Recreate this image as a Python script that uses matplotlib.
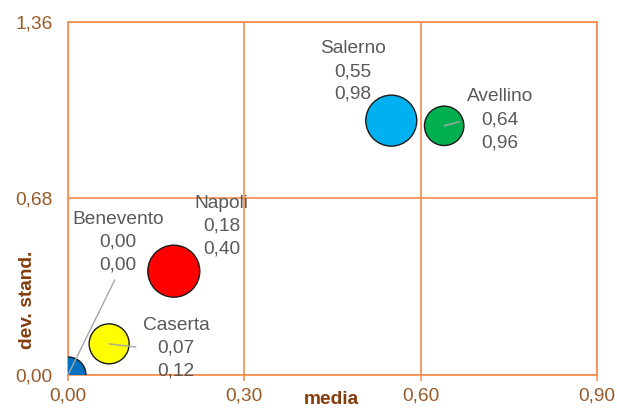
import matplotlib
matplotlib.use("Agg")
import matplotlib.pyplot as plt

# --- data ---
province = ["Benevento", "Caserta", "Napoli", "Salerno", "Avellino"]
media = [0.00, 0.07, 0.18, 0.55, 0.64]
dev_stand = [0.00, 0.12, 0.40, 0.98, 0.96]
dimensione = [324, 400, 676, 650, 388]
colori = ["#0070C0", "#FFFF00", "#FF0000", "#00B0F0", "#00B050"]
x_ticks = [0.00, 0.30, 0.60, 0.90]
y_ticks = [0.00, 0.68, 1.36]

# label offsets (pixels) and leader-line settings
offsets = [(50, 133), (67, -4), (48, 45), (-38, 49), (56, 6)]
leaders = [(0.5, 0.0), (0.0, 0.5), None, None, (0.0, 0.5)]

plt.rcParams['font.family'] = ['Liberation Sans', 'DejaVu Sans']
ORANGE = "#F68B4C"
TICKC = "#9A5A28"
TITLEC = "#843C0C"
LABELC = "#595959"

fig = plt.figure(figsize=(6.17, 4.09), dpi=100)
ax = fig.add_axes([68/617, 34/409, 529/617, 353/409])
ax.set_xlim(0, 0.90)
ax.set_ylim(0, 1.36)

sizes = [d * (2 * 0.72) ** 2 for d in dimensione]
ax.scatter(media, dev_stand, s=sizes, c=colori, edgecolors="#1a1a1a",
           linewidths=1.0, zorder=3, clip_on=True)

for i, name in enumerate(province):
    txt = f"{name}\n{media[i]:.2f}\n{dev_stand[i]:.2f}".replace(".", ",")
    kw = {}
    if leaders[i] is not None:
        kw["arrowprops"] = dict(arrowstyle="-", color="#A6A6A6", lw=1.0,
                                relpos=leaders[i], shrinkA=3, shrinkB=0)
    ax.annotate(txt, (media[i], dev_stand[i]), xytext=offsets[i],
                textcoords="offset pixels", ha="center", va="center",
                fontsize=13.8, color=LABELC, linespacing=1.45, zorder=4,
                annotation_clip=False, **kw)

ax.set_xticks(x_ticks)
ax.set_yticks(y_ticks)
ax.set_xticklabels([f"{v:.2f}".replace(".", ",") for v in x_ticks])
ax.set_yticklabels([f"{v:.2f}".replace(".", ",") for v in y_ticks])
ax.tick_params(axis="x", direction="out", length=4, width=1.1, color=ORANGE,
               labelcolor=TICKC, labelsize=13.8, pad=5)
ax.tick_params(axis="y", length=0, labelcolor=TICKC, labelsize=13.8, pad=11)
ax.grid(True, color=ORANGE, linewidth=1.2)
ax.set_axisbelow(True)
for sp in ax.spines.values():
    sp.set_color(ORANGE)
    sp.set_linewidth(1.2)

fig.text(331/617, 1 - 399/409, "media", ha="center", va="center",
         fontsize=13.8, fontweight="bold", color=TITLEC)
fig.text(27/617, 1 - 300/409, "dev. stand.", ha="center", va="center",
         rotation=90, fontsize=13.8, fontweight="bold", color=TITLEC)

fig.savefig("out.png", dpi=100)
